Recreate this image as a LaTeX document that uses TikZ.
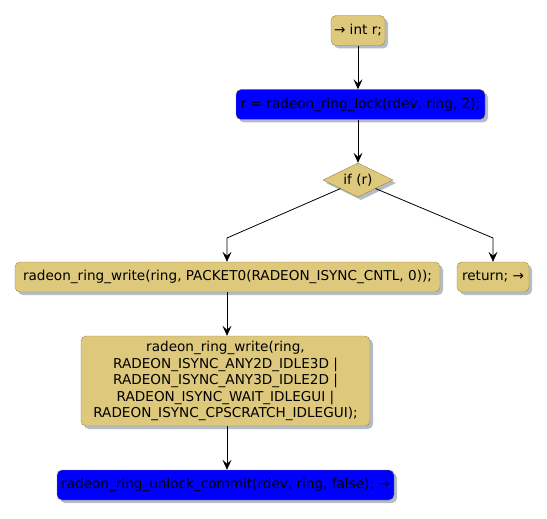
\documentclass[tikz,border=0pt]{standalone}
\usepackage{fontspec}
\setmainfont{DejaVu Sans}
\usetikzlibrary{shapes.geometric,arrows.meta,shadows}
\definecolor{actfill}{HTML}{DDC87C}
\definecolor{actline}{HTML}{9A8744}
\definecolor{shadowcol}{HTML}{B4BCC8}
\begin{document}
\begin{tikzpicture}[
        x=1pt, y=-1pt,
        font=\fontsize{13.6}{16.5}\selectfont,
        actionbox/.style={draw=actline, fill=actfill, rounded corners=5pt, minimum height=30pt, align=center,
            inner xsep=3pt, drop shadow={shadow xshift=3pt, shadow yshift=-3pt, fill=shadowcol, opacity=1}},
        bluebox/.style={actionbox, fill=blue},
        decision/.style={diamond, draw=actline, fill=actfill, aspect=2, inner sep=1pt, minimum height=34pt,
            drop shadow={shadow xshift=3pt, shadow yshift=-3pt, fill=shadowcol, opacity=1}},
        flow/.style={-{Stealth[length=10pt, width=9pt, inset=4pt]}, thick}
    ]
        \useasboundingbox (0,0) rectangle (547,519);

        \node[actionbox, minimum width=54pt]
            (start) at (358,30.5) {→ int r;};
        \node[bluebox, minimum width=249pt]
            (lock) at (360.5,104.5) {r = radeon\_ring\_lock(rdev, ring, 2);};
        \node[decision, minimum width=70pt]
            (ifr) at (358,180) {if (r)};

        \node[actionbox, minimum width=425pt]
            (writecntl) at (227.5,277)
            {radeon\_ring\_write(ring, PACKET0(RADEON\_ISYNC\_CNTL, 0));};
        \node[actionbox, minimum width=72pt]
            (ret) at (493,277) {return; →};
        \node[actionbox, minimum width=289pt, minimum height=90pt]
            (writeflags) at (225.5,381)
            {radeon\_ring\_write(ring,\\ RADEON\_ISYNC\_ANY2D\_IDLE3D |\\
             RADEON\_ISYNC\_ANY3D\_IDLE2D |\\ RADEON\_ISYNC\_WAIT\_IDLEGUI |\\
             RADEON\_ISYNC\_CPSCRATCH\_IDLEGUI);};
        \node[bluebox, minimum width=337pt]
            (unlock) at (225.5,485)
            {radeon\_ring\_unlock\_commit(rdev, ring, false); →};

        \coordinate (leftturn) at (227,238);
        \coordinate (rightturn) at (493,238);

        \draw[flow] (start) -- (lock.north -| start);
        \draw[flow] (lock.south -| ifr) -- (ifr.north);
        \draw[flow] (ifr.south west) -- (leftturn) -- (writecntl.north -| leftturn);
        \draw[flow] (ifr.south east) -- (rightturn) -- (ret.north);
        \draw[flow] (writecntl.south -| leftturn) -- (writeflags.north -| leftturn);
        \draw[flow] (writeflags.south -| leftturn) -- (unlock.north -| leftturn);
    \end{tikzpicture}
\end{document}
